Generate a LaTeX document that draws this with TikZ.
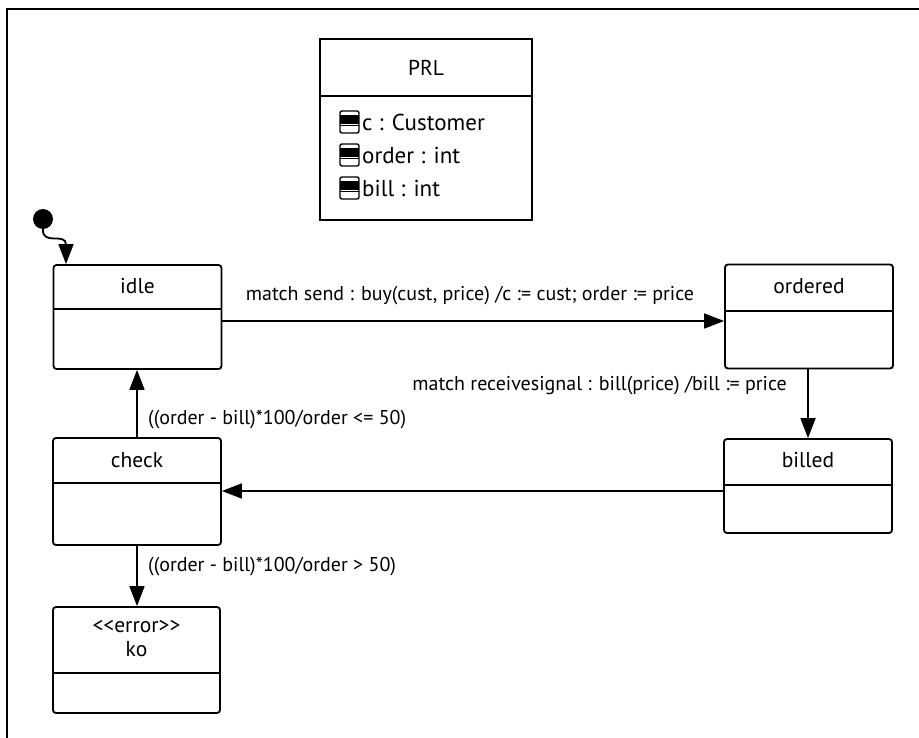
\documentclass[tikz,border=0pt]{standalone}
\usepackage{fontspec}
\setmainfont{PT Sans}
\usetikzlibrary{positioning, arrows.meta}

\begin{document}
\begin{tikzpicture}[
    x=1pt, y=-1pt,
    state/.style={draw, rectangle, rounded corners=3pt, line width=1.8pt, minimum width=168pt, inner sep=0pt},
    statename/.style={font=\fontsize{21.5}{24}\selectfont, inner sep=0pt},
    attr/.style={font=\fontsize{23}{25}\selectfont, inner sep=0pt, anchor=west},
    guard/.style={font=\fontsize{20}{22}\selectfont, inner sep=0pt},
    divider/.style={line width=1.8pt},
    trans/.style={line width=1.8pt, -{Triangle[length=20pt, width=15pt]}}
]
\useasboundingbox (0,0) rectangle (919,738);

% frame
\draw[line width=1.8pt] (919,9) -- (7,9) -- (7,738);

% class box
\node[draw, rectangle, line width=1.8pt, minimum width=212pt, minimum height=181pt, inner sep=0pt] (prl) at (426,129.5) {};
\node[statename] (prl-name) at (426,68) {PRL};
\draw[divider] (prl.west |- 0,96) -- (prl.east |- 0,96);
\foreach \yy/\txt [count=\i] in {122/{c : Customer}, 155/{order : int}, 188/{bill : int}} {
    \draw[rounded corners=2pt, line width=1.4pt] (340,\yy-11) rectangle (359,\yy+11);
    \fill (340,\yy-7) rectangle (359,\yy+2);
    \draw[line width=1pt] (340,\yy+4) -- (359,\yy+4);
    \node[attr] (attr\i) at (362,\yy) {\txt};
}

% states
\node[state, minimum height=104pt] (idle) at (137.5,317) {};
\node[statename] (idle-name) at (137.5,286) {idle};
\draw[divider] (idle.west |- 0,309) -- (idle.east |- 0,309);

\node[state, minimum height=104pt] (ordered) at (809,316.5) {};
\node[statename] (ordered-name) at (809,286) {ordered};
\draw[divider] (ordered.west |- 0,311) -- (ordered.east |- 0,311);

\node[state, minimum height=94pt] (billed) at (808,486) {};
\node[statename] (billed-name) at (808,460) {billed};
\draw[divider] (billed.west |- 0,485) -- (billed.east |- 0,485);

\node[state, minimum height=107pt] (check) at (137,491.5) {};
\node[statename] (check-name) at (137,460) {check};
\draw[divider] (check.west |- 0,483) -- (check.east |- 0,483);

\node[state, minimum height=106pt, minimum width=167pt] (ko) at (136.5,660) {};
\node[statename, align=center] (ko-name) at (136.5,639) {{<}{<}error{>}{>}\\ko};
\draw[divider] (ko.west |- 0,673) -- (ko.east |- 0,673);

% initial state
\node[circle, fill, minimum size=20pt, inner sep=0pt] (init) at (43,219) {};
\draw[trans] (init.south) .. controls (42,246) and (66,232) .. (idle.north -| 66,0);

% transitions
\draw[trans] (idle.east |- 0,321) -- (ordered.west |- 0,321);
\node[guard] (lbl-send) at (470,296) {match send : buy(cust, price) /c := cust; order := price};

\draw[trans] (ordered.south -| 808,0) -- (billed.north -| 808,0);
\node[guard, anchor=east] (lbl-bill) at (787,386) {match receivesignal : bill(price) /bill := price};

\draw[trans] (billed.west |- 0,491) -- (check.east |- 0,491);

\draw[trans] (check.north -| 137,0) -- (idle.south -| 137,0);
\node[guard, anchor=west] (lbl-ok) at (148,420) {((order - bill)*100/order <= 50)};

\draw[trans] (check.south -| 137,0) -- (ko.north -| 137,0);
\node[guard, anchor=west] (lbl-ko) at (148,567) {((order - bill)*100/order > 50)};
\end{tikzpicture}
\end{document}
